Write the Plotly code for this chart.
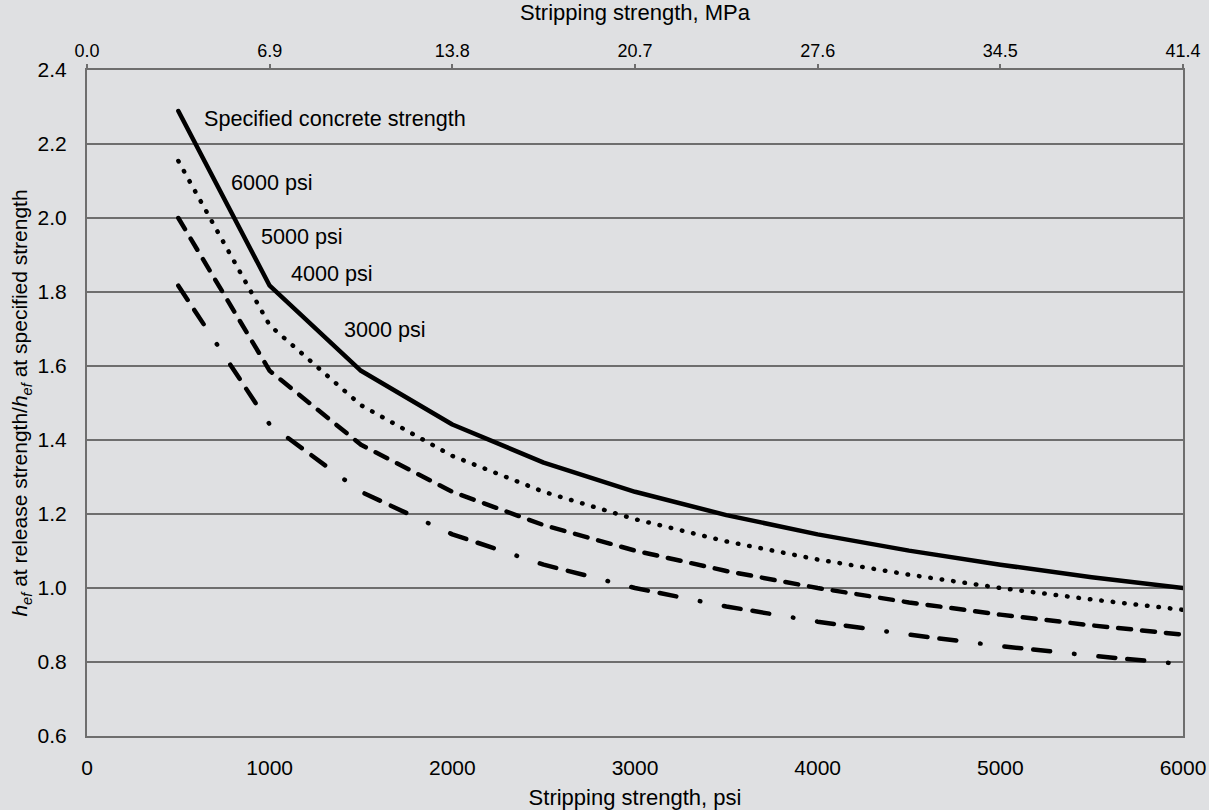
import plotly.graph_objects as go

# Stripping strength, psi
strip_psi = [500, 1000, 1500, 2000, 2500, 3000, 3500, 4000, 4500, 5000, 5500, 6000]

# h_ef ratio for each specified concrete strength
psi6000 = [2.289, 1.817, 1.587, 1.442, 1.339, 1.260, 1.197, 1.145, 1.101, 1.063, 1.029, 1.000]
psi5000 = [2.154, 1.710, 1.494, 1.357, 1.260, 1.186, 1.126, 1.077, 1.036, 1.000, 0.969, 0.941]
psi4000 = [2.000, 1.587, 1.387, 1.260, 1.170, 1.101, 1.046, 1.000, 0.961, 0.928, 0.899, 0.874]
psi3000 = [1.817, 1.442, 1.260, 1.145, 1.063, 1.000, 0.950, 0.909, 0.874, 0.843, 0.817, 0.794]

x_ticks = [0, 1000, 2000, 3000, 4000, 5000, 6000]
mpa_labels = ["0.0", "6.9", "13.8", "20.7", "27.6", "34.5", "41.4"]
y_ticks = [0.6, 0.8, 1.0, 1.2, 1.4, 1.6, 1.8, 2.0, 2.2, 2.4]

labels = ["Specified concrete strength", "6000 psi", "5000 psi", "4000 psi", "3000 psi"]
label_x = [630, 780, 944, 1108, 1398]
label_y = [2.27, 2.097, 1.949, 1.851, 1.70]

BG = "#dfe0e2"
GRID = "#6e6e6e"
FONT = "Liberation Sans, Arial, sans-serif"

fig = go.Figure()
series = [
    (psi6000, "solid", 4.5),
    (psi5000, "0.5px,11px", 4.5),
    (psi4000, "13px,11px", 4.5),
    (psi3000, "17px,12px,17px,24px,0.5px,24px", 4.5),
]
for ys, dash, w in series:
    fig.add_trace(go.Scatter(x=strip_psi, y=ys, mode="lines",
                             line=dict(color="black", width=w, dash=dash),
                             showlegend=False, hoverinfo="skip"))

# dummy trace to carry top (MPa) axis
fig.add_trace(go.Scatter(x=x_ticks, y=[None] * len(x_ticks), xaxis="x2", yaxis="y",
                         mode="markers", showlegend=False, hoverinfo="skip"))

for t, xv, yv in zip(labels, label_x, label_y):
    fig.add_annotation(x=xv, y=yv, text=t, showarrow=False, xanchor="left", yanchor="middle",
                       font=dict(family=FONT, size=21.6, color="black"))

fig.update_layout(
    width=1209, height=810,
    paper_bgcolor=BG, plot_bgcolor=BG,
    margin=dict(l=87, r=26, t=70, b=74, autoexpand=False),
    font=dict(family=FONT, size=21, color="black"),
    xaxis=dict(range=[0, 6000], tickvals=x_ticks, showgrid=False, zeroline=False,
               showline=True, linecolor=GRID, linewidth=2, mirror=True,
               ticks="", ticklabelstandoff=12, automargin=False,
               title=dict(text="Stripping strength, psi", font=dict(size=22), standoff=13)),
    xaxis2=dict(range=[0, 6000], tickvals=x_ticks, ticktext=mpa_labels, overlaying="x",
                side="top", anchor="y", showgrid=False, zeroline=False, showline=False,
                ticks="outside", ticklen=5, tickwidth=2, tickcolor=GRID, automargin=False,
                tickfont=dict(size=18),
                title=dict(text="Stripping strength, MPa", font=dict(size=22), standoff=15)),
    yaxis=dict(range=[0.6, 2.4], tickvals=y_ticks, tickformat=".1f",
               showgrid=True, gridcolor=GRID, gridwidth=2, zeroline=False,
               showline=True, linecolor=GRID, linewidth=2, mirror=True,
               ticks="", ticklabelstandoff=14, automargin=False,
               title=dict(text="<i>h<sub>ef</sub></i> at release strength/<i>h<sub>ef</sub></i> at specified strength",
                          font=dict(size=21), standoff=4)),
)

post = """
var gd=document.getElementById('{plot_id}');
function fix(){gd.querySelectorAll('.scatterlayer path.js-line').forEach(function(p){p.style.strokeLinecap='round';p.style.strokeLinejoin='round';});}
fix(); if(gd.on){gd.on('plotly_afterplot', fix);}
"""
fig.write_html("out.html", post_script=post)
